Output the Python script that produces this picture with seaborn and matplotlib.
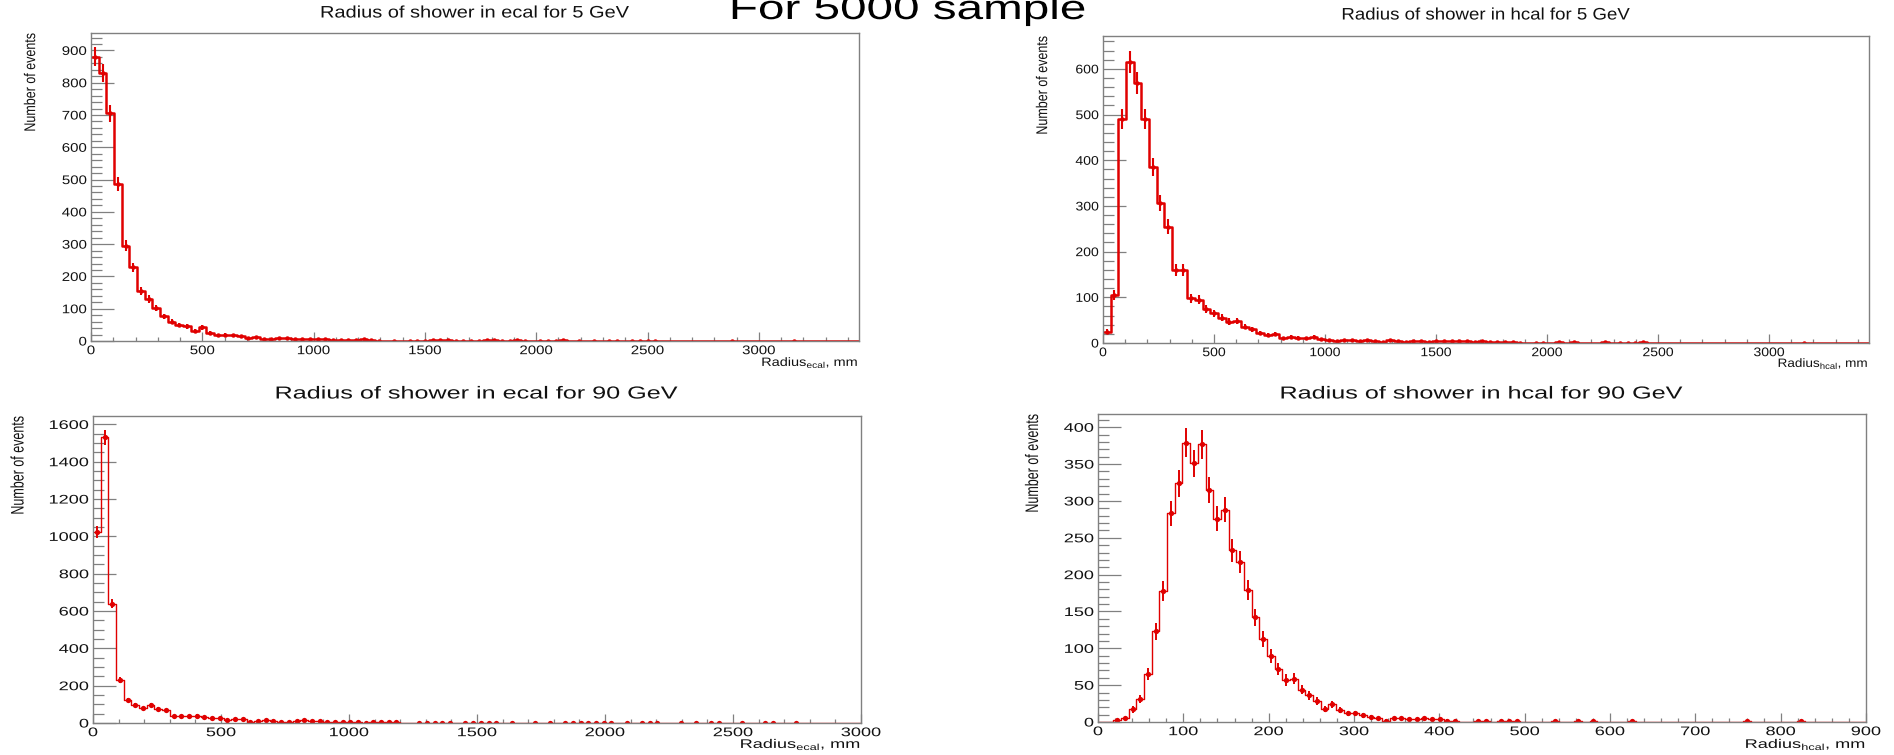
import numpy as np
import pandas as pd
import matplotlib
matplotlib.use("Agg")
import matplotlib.pyplot as plt
import seaborn as sns
from matplotlib.patheffects import AbstractPathEffect
from matplotlib.transforms import Affine2D
from matplotlib.ticker import MultipleLocator

# ---------------------------------------------------------------------------
# Shower radius histograms (100 bins each), counts per bin
# ---------------------------------------------------------------------------
ecal_5gev = [
    880, 830, 705, 487, 295, 228, 155, 130, 102, 76,
    60, 50, 45, 32, 42, 25, 18, 20, 18, 16,
    8, 12, 6, 5, 10, 8, 7, 7, 6, 5,
    5, 4, 3, 4, 4, 5, 3, 1, 0, 1,
    0, 1, 1, 1, 2, 3, 2, 1, 1, 1,
    1, 2, 3, 1, 1, 2, 1, 0, 1, 1,
    1, 3, 0, 1, 0, 1, 0, 1, 1, 0,
    1, 1, 1, 1, 0, 0, 0, 0, 0, 0,
    0, 0, 0, 1, 0, 0, 0, 0, 0, 0,
    0, 1, 0, 0, 0, 0, 0, 0, 0, 0,
]
hcal_5gev = [
    25, 105, 490, 615, 570, 490, 385, 307, 255, 160,
    160, 98, 95, 75, 65, 55, 47, 48, 36, 30,
    22, 17, 20, 10, 13, 11, 10, 14, 8, 7,
    5, 6, 7, 5, 6, 5, 3, 6, 4, 3,
    5, 4, 3, 5, 4, 4, 4, 5, 3, 5,
    2, 3, 2, 2, 1, 0, 1, 1, 0, 2,
    0, 2, 0, 0, 0, 2, 0, 1, 1, 1,
    2, 0, 0, 0, 0, 0, 0, 0, 0, 0,
    0, 0, 0, 0, 0, 0, 0, 0, 0, 0,
    0, 1, 0, 0, 0, 0, 0, 0, 0, 0,
]
ecal_90gev = [
    1025, 1530, 640, 230, 125, 95, 78, 95, 75, 68,
    38, 37, 37, 40, 33, 27, 27, 18, 20, 20,
    6, 10, 14, 12, 8, 6, 11, 14, 10, 10,
    4, 5, 4, 3, 3, 2, 3, 3, 3, 3,
    0, 0, 1, 1, 2, 1, 1, 0, 1, 1,
    1, 1, 1, 0, 1, 0, 0, 1, 0, 1,
    0, 1, 1, 1, 2, 1, 1, 1, 0, 1,
    0, 1, 1, 1, 0, 0, 1, 0, 1, 0,
    1, 1, 0, 0, 1, 0, 0, 1, 1, 0,
    0, 1, 0, 0, 0, 0, 0, 0, 0, 0,
]
hcal_90gev = [
    0, 0, 3, 5, 17, 31, 65, 123, 178, 283,
    324, 379, 351, 377, 315, 276, 288, 233, 217, 179,
    142, 113, 89, 72, 57, 59, 44, 36, 28, 18,
    24, 16, 12, 12, 9, 7, 5, 2, 5, 5,
    4, 4, 5, 4, 4, 2, 1, 0, 0, 1,
    1, 0, 1, 1, 1, 0, 0, 0, 0, 1,
    0, 0, 1, 0, 1, 0, 0, 0, 0, 1,
    0, 0, 0, 0, 0, 0, 0, 0, 0, 0,
    0, 0, 0, 0, 1, 0, 0, 0, 0, 0,
    0, 1, 0, 0, 0, 0, 0, 0, 0, 0,
]

titles = [
    "Radius of shower in ecal for 5 GeV",
    "Radius of shower in hcal for 5 GeV",
    "Radius of shower in ecal for 90 GeV",
    "Radius of shower in hcal for 90 GeV",
]
detectors = ["ecal", "hcal", "ecal", "hcal"]
x_ranges = [3450, 3450, 3000, 900]
y_ranges = [954, 672, 1645, 418]
y_label = "Number of events"
headline = "For 5000 sample"

# ---------------------------------------------------------------------------
W, H = 1894, 755
RED = "#e00000"
FRAME = "#808080"


class Stretch(AbstractPathEffect):
    """Draw text with an extra horizontal/vertical scale about an anchor."""

    def __init__(self, sx=1.0, sy=1.0, anchor="center"):
        super().__init__()
        self.sx, self.sy, self.anchor = sx, sy, anchor

    def draw_path(self, renderer, gc, tpath, affine, rgbFace=None):
        ext = tpath.get_extents()
        if self.anchor == "right":
            cx = ext.x1
        elif self.anchor == "left":
            cx = ext.x0
        else:
            cx = 0.5 * (ext.x0 + ext.x1)
        cy = 0.5 * (ext.y0 + ext.y1)
        pre = Affine2D().translate(-cx, -cy).scale(self.sx, self.sy).translate(cx, cy)
        renderer.draw_path(gc, tpath, pre + affine, rgbFace)


def fx(px):
    return px / W


def fy(py):
    return 1 - py / H


sns.set_style("white")
plt.rcParams["font.family"] = ["Liberation Sans", "DejaVu Sans"]
plt.rcParams["mathtext.fontset"] = "custom"
plt.rcParams["mathtext.rm"] = "Liberation Sans"

fig = plt.figure(figsize=(W / 100, H / 100), dpi=100)
fig.patch.set_facecolor("white")

# layout / style per panel: frame box in pixels and text geometry
layout = [
    dict(box=(91, 33, 859, 341), title_y=13, xlab_y=366, ylab_x=31, ysy=1.25,
         xmaj=500, xmin=100, ymaj=100, ymin=20,
         sx=1.2, tfs=12, tkfs=9, lfs=8.7, lw=1.8, elw=1.5, ms=3.2),
    dict(box=(1103, 36, 1869, 343), title_y=15, xlab_y=367, ylab_x=1043, ysy=1.25,
         xmaj=500, xmin=100, ymaj=100, ymin=20,
         sx=1.12, tfs=12, tkfs=9, lfs=8.7, lw=1.8, elw=1.5, ms=3.2),
    dict(box=(93, 416, 861, 723), title_y=394, xlab_y=748, ylab_x=18.5, ysy=1.45,
         xmaj=500, xmin=100, ymaj=200, ymin=50,
         sx=1.45, tfs=12.5, tkfs=9, lfs=9, lw=1.0, elw=1.4, ms=3.8),
    dict(box=(1098, 414, 1866, 722), title_y=394, xlab_y=748, ylab_x=1033, ysy=1.45,
         xmaj=100, xmin=20, ymaj=50, ymin=10,
         sx=1.45, tfs=12.5, tkfs=9, lfs=9, lw=1.0, elw=1.4, ms=3.8),
]

data = [ecal_5gev, hcal_5gev, ecal_90gev, hcal_90gev]

for counts, title, det, xr, yr, L in zip(data, titles, detectors,
                                          x_ranges, y_ranges, layout):
    left, top, right, bottom = L["box"]
    ax = fig.add_axes([fx(left), fy(bottom), fx(right - left), (bottom - top) / H])

    counts = np.asarray(counts, dtype=float)
    nbins = len(counts)
    edges = np.linspace(0, xr, nbins + 1)
    centers = 0.5 * (edges[:-1] + edges[1:])
    frame = pd.DataFrame({"radius": centers, "events": counts})

    # step outline of the histogram
    sns.histplot(data=frame, x="radius", weights="events", bins=nbins,
                 binrange=(0, xr), element="step", fill=False, color=RED,
                 linewidth=L["lw"], ax=ax)

    # Poisson error bars with markers on the filled bins
    nz = counts > 0
    ax.errorbar(centers[nz], counts[nz], yerr=np.sqrt(counts[nz]), fmt="o",
                color=RED, ms=L["ms"], elinewidth=L["elw"], capsize=0,
                markeredgewidth=0)

    ax.set_xlim(0, xr)
    ax.set_ylim(0, yr)
    ax.set_xlabel("")
    ax.set_ylabel("")

    ax.set_xticks(np.arange(0, xr + 1, L["xmaj"]))
    ax.set_yticks(np.arange(0, yr + 1, L["ymaj"]))
    ax.xaxis.set_minor_locator(MultipleLocator(L["xmin"]))
    ax.yaxis.set_minor_locator(MultipleLocator(L["ymin"]))

    ax.tick_params(axis="both", which="both", direction="in", color=FRAME,
                   width=0.9, labelsize=L["tkfs"], labelcolor="#111111",
                   top=False, right=False, bottom=True, left=True)
    ax.tick_params(axis="y", which="major", length=16.5, pad=3)
    ax.tick_params(axis="y", which="minor", length=8)
    ax.tick_params(axis="x", which="major", length=6.5, pad=3)
    ax.tick_params(axis="x", which="minor", length=3)

    for sp in ax.spines.values():
        sp.set_visible(True)
        sp.set_color(FRAME)
        sp.set_linewidth(1.0)

    for t in ax.xaxis.get_major_ticks():
        t.label1.set_path_effects([Stretch(L["sx"], 1.0, "center")])
    for t in ax.yaxis.get_major_ticks():
        t.label1.set_path_effects([Stretch(L["sx"], 1.0, "right")])

    # title, axis titles
    fig.text(fx(0.5 * (left + right)), fy(L["title_y"]), title,
             ha="center", va="center", fontsize=L["tfs"], color="#111111",
             path_effects=[Stretch(L["sx"], 1.0, "center")])
    fig.text(fx(right), fy(L["xlab_y"]),
             r"Radius$_{\mathregular{%s}}$, mm" % det,
             ha="right", va="baseline", fontsize=L["lfs"], color="#111111",
             path_effects=[Stretch(L["sx"], 1.0, "right")])
    fig.text(fx(L["ylab_x"]), fy(top), y_label, rotation=90,
             ha="center", va="top", fontsize=9, color="#111111",
             path_effects=[Stretch(1.0, L["ysy"], "center")])

# slide headline, partly running off the top edge
fig.text(fx(908), fy(19), headline, ha="center", va="baseline",
         fontsize=24.5, color="black",
         path_effects=[Stretch(1.4, 1.0, "center")])

fig.savefig("out.png", dpi=100, facecolor="white")
